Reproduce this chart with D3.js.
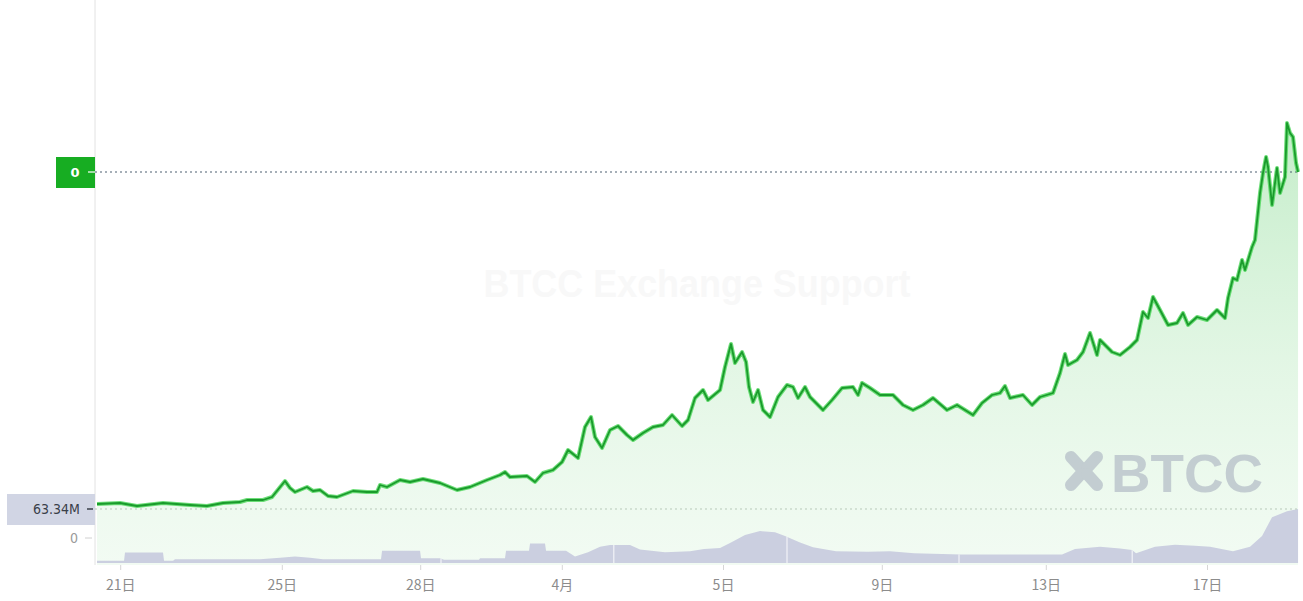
<!DOCTYPE html>
<html><head><meta charset="utf-8">
<script src="https://cdn.jsdelivr.net/npm/d3@7"></script>
<style>
html,body{margin:0;padding:0;background:#fff;}
svg{display:block;}
</style></head>
<body>
<svg id="chart" width="1303" height="601"></svg>
<script>
// ---------- DATA ----------
// time index (sessions) and price (arbitrary units)
const priceT = [0,2.88,5,8.25,11.63,13.75,15.75,17.88,18.75,20.75,21.88,23.5,24.13,24.75,26.25,27,27.88,28.88,30,32,33.75,35,35.38,36.25,37.88,39.13,40.75,42.88,45,46.63,48.75,50.38,51,51.63,53.75,54.75,55.75,57,58.13,58.88,60.13,61,61.75,62.25,63.13,64.13,65.13,66.25,67,68.25,69.5,70.75,71.88,73.13,73.88,74.75,75.75,76.38,77.88,78.5,79.25,79.75,80.63,81.13,81.5,82,82.63,83.25,84.13,85.13,86.25,87,87.63,88.5,89.13,90.75,91.88,93.13,94.5,95.13,95.63,96.63,97.88,99.5,100.75,102,103.25,104.5,106.25,107.5,109.5,110.63,111.88,112.88,113.5,114.13,115.75,116.88,117.88,119.5,120.38,121,121.38,122.5,123.25,124.13,125,125.38,126.88,127.88,129.13,130,130.75,131.38,132,132.88,133.88,135,135.75,136.38,137.5,138.75,140,141,141.38,142,142.5,143.13,143.5,144.38,144.75,145.38,145.75,146.13,146.38,146.88,147.5,147.88,148.5,148.75,149.13,149.5,149.88,150.13];
const priceV = [6.1,6.2,5.9,6.2,6.0,5.9,6.2,6.3,6.5,6.5,6.8,8.4,7.7,7.3,7.8,7.4,7.5,6.9,6.8,7.4,7.3,7.3,8.0,7.8,8.5,8.3,8.6,8.2,7.5,7.8,8.5,9.0,9.3,8.8,8.9,8.3,9.2,9.5,10.3,11.5,10.7,13.8,14.8,12.8,11.7,13.5,13.9,13.0,12.5,13.2,13.8,14.0,15.0,13.9,14.5,16.7,17.5,16.5,17.5,19.8,22.1,20.2,21.3,20.3,17.8,16.3,17.5,15.5,14.8,16.8,18.0,17.8,16.7,17.8,16.8,15.5,16.5,17.7,17.8,17.0,18.2,17.7,17.0,17.0,16.0,15.5,16.0,16.7,15.5,16.0,15.0,16.2,17.0,17.2,17.9,16.7,17.0,16.0,16.8,17.2,19.2,21.1,20.0,20.5,21.3,23.2,21.0,22.5,21.3,21.0,21.8,22.5,25.3,24.7,26.8,25.5,24.0,24.2,25.2,24.0,24.8,24.5,25.5,24.7,26.7,28.7,28.5,30.5,29.5,31.8,32.5,37.2,39.2,40.8,39.8,36.0,39.7,37.2,38.8,44.2,43.2,42.8,40.2,39.3];

// volume (millions)
const volT = [0,3.38,3.5,8.25,8.38,9.5,9.75,20.38,22.88,24.75,26.63,28.25,35.5,35.63,40.38,40.5,42.88,43.38,47.75,47.88,51,51.13,54,54.13,56,56.13,58.63,59.75,61.38,62.88,64.13,66.63,67.88,71,74.13,75.88,77.88,79.25,81,82.88,84.75,86,87.88,89.5,92.38,96.38,99.13,102.13,108,120.63,122.25,125.38,127.88,129.38,129.88,132.25,134.75,137.25,139.13,142,144.13,145.63,146.88,148.75,150.13];
const volV = [2.5,2.5,12.4,12.4,2.5,2.5,4.4,4.4,6.3,7.6,6.3,4.4,4.4,14.3,14.3,5.7,5.7,3.8,3.8,5.7,5.7,14.3,14.3,22.8,22.8,14.3,14.3,7.6,12.7,19.0,21.2,21.2,15.8,12.7,13.9,16.5,17.7,24.1,32.9,37.4,36.1,31.7,24.1,18.4,13.9,13.3,13.9,11.4,10.1,10.1,16.5,19.0,17.1,15.2,11.4,19.0,21.5,20.3,19.0,13.9,19.0,31.7,53.8,60.8,63.34];
const volGaps = [43.0,64.6,86.25,107.75,129.4];

const tickPos = [2.9,23.1,40.4,58.1,78.25,98.1,118.6,138.75];
const tickLabels = ["21日","25日","28日","4月","5日","9日","13日","17日"];

const lastPriceLabel = "0";
const volMaxLabel = "63.34M";
const volZeroLabel = "0";
const watermark = "BTCC Exchange Support";
const logoText = "BTCC";

// ---------- DRAW ----------
(function () {
const svg = d3.select("#chart");
const padL = 95, plotBottom = 565;

const x = d3.scaleLinear().domain([0, 150.25]).range([97, 1299]);
const y = d3.scaleLinear().domain([0, 56.5]).range([565, 0]);
const yv = d3.scaleLinear().domain([0, 63.34]).range([563, 509]);

const price = priceT.map((t, i) => ({t, v: priceV[i]}));
const vol = volT.map((t, i) => ({t, v: volV[i]}));

const defs = svg.append("defs");
const grad = defs.append("linearGradient").attr("id", "pfill")
  .attr("gradientUnits", "userSpaceOnUse").attr("x1", 0).attr("x2", 0)
  .attr("y1", y(45)).attr("y2", plotBottom);
grad.append("stop").attr("offset", 0).attr("stop-color", "#39c24a").attr("stop-opacity", 0.30);
grad.append("stop").attr("offset", 0.55).attr("stop-color", "#4cc85a").attr("stop-opacity", 0.16);
grad.append("stop").attr("offset", 1).attr("stop-color", "#6fd27a").attr("stop-opacity", 0.09);

const volArea = d3.area().x(d => x(d.t)).y0(yv(0)).y1(d => yv(d.v));
defs.append("clipPath").attr("id", "volclip").append("path").datum(vol).attr("d", volArea);

// watermark
svg.append("text").attr("x", 697).attr("y", 297)
  .attr("text-anchor", "middle")
  .attr("font-family", "Liberation Sans, Arial, sans-serif")
  .attr("font-size", 38).attr("font-weight", "bold")
  .attr("fill", "#f8f8f8")
  .attr("textLength", 427).attr("lengthAdjust", "spacingAndGlyphs")
  .text(watermark);

// price area
svg.append("path").datum(price)
  .attr("d", d3.area().x(d => x(d.t)).y0(plotBottom).y1(d => y(d.v)))
  .attr("fill", "url(#pfill)");

// volume area
svg.append("path").datum(vol).attr("d", volArea).attr("fill", "#cbcfe0");
svg.append("g").attr("clip-path", "url(#volclip)")
  .selectAll("line").data(volGaps).join("line")
  .attr("x1", d => x(d)).attr("x2", d => x(d))
  .attr("y1", 500).attr("y2", 564)
  .attr("stroke", "#ffffff").attr("stroke-opacity", 0.75).attr("stroke-width", 1.2);

// logo
const logo = svg.append("g").attr("opacity", 0.72);
const lc = "#b4bdc7";
[[1071,457,1081,468],[1097,457,1087,468],[1071,485,1081,474],[1097,485,1087,474]].forEach(s => {
  logo.append("line").attr("x1", s[0]).attr("y1", s[1]).attr("x2", s[2]).attr("y2", s[3])
    .attr("stroke", lc).attr("stroke-width", 12).attr("stroke-linecap", "round");
});
logo.append("text").attr("x", 1111).attr("y", 492)
  .attr("font-family", "Liberation Sans, Arial, sans-serif")
  .attr("font-size", 54).attr("font-weight", "bold")
  .attr("fill", lc).attr("textLength", 152).attr("lengthAdjust", "spacingAndGlyphs")
  .text(logoText);

// left axis line
svg.append("line").attr("x1", padL).attr("x2", padL).attr("y1", 0).attr("y2", plotBottom)
  .attr("stroke", "#e2e2e2").attr("stroke-width", 1);

// dotted lines
const lastV = priceV[priceV.length - 1];
svg.append("line").attr("x1", padL).attr("x2", 1299).attr("y1", y(lastV)).attr("y2", y(lastV))
  .attr("stroke", "#4d5e70").attr("stroke-width", 1).attr("stroke-dasharray", "2,3");
svg.append("line").attr("x1", padL).attr("x2", 1299).attr("y1", yv(63.34)).attr("y2", yv(63.34))
  .attr("stroke", "#b7c9b9").attr("stroke-width", 1).attr("stroke-dasharray", "2,3");

// price line with glow
const line = d3.line().x(d => x(d.t)).y(d => y(d.v)).curve(d3.curveLinear);
svg.append("path").datum(price).attr("d", line)
  .attr("fill", "none").attr("stroke", "#4ad657").attr("stroke-width", 4)
  .attr("stroke-linejoin", "round").attr("stroke-opacity", 0.8);
svg.append("path").datum(price).attr("d", line)
  .attr("fill", "none").attr("stroke", "#1a9b2c").attr("stroke-width", 1.8)
  .attr("stroke-linejoin", "round");

// last price label
const ly = y(lastV);
svg.append("rect").attr("x", 56).attr("y", ly - 15).attr("width", 39).attr("height", 31)
  .attr("fill", "#17ad22");
svg.append("line").attr("x1", 88).attr("x2", 95).attr("y1", ly).attr("y2", ly)
  .attr("stroke", "#ffffff").attr("stroke-width", 1.2);
svg.append("text").attr("x", 75).attr("y", ly + 5)
  .attr("text-anchor", "middle").attr("font-family", "DejaVu Sans, sans-serif")
  .attr("font-size", 13).attr("font-weight", "bold").attr("fill", "#ffffff")
  .text(lastPriceLabel);

// volume max label
const vy = yv(63.34);
svg.append("rect").attr("x", 7).attr("y", vy - 15).attr("width", 88).attr("height", 31)
  .attr("fill", "#d1d5e4");
svg.append("text").attr("x", 80).attr("y", vy + 5)
  .attr("text-anchor", "end").attr("font-family", "DejaVu Sans Condensed, DejaVu Sans, sans-serif")
  .attr("font-size", 14).attr("fill", "#3a3f4a")
  .text(volMaxLabel);
svg.append("line").attr("x1", 87).attr("x2", 93).attr("y1", vy).attr("y2", vy)
  .attr("stroke", "#3a3f4a").attr("stroke-width", 1.5);

// "0" label
svg.append("text").attr("x", 78).attr("y", 543)
  .attr("text-anchor", "end").attr("font-family", "DejaVu Sans Condensed, DejaVu Sans, sans-serif")
  .attr("font-size", 14).attr("fill", "#9a9a9a").text(volZeroLabel);
svg.append("line").attr("x1", 85).attr("x2", 92).attr("y1", 538).attr("y2", 538)
  .attr("stroke", "#d0d0d0").attr("stroke-width", 1);

// x axis
const xAxis = d3.axisBottom(x).tickValues(tickPos)
  .tickFormat((d, i) => tickLabels[i]).tickSize(5).tickPadding(10);
const gx = svg.append("g").attr("transform", `translate(0,${plotBottom})`).call(xAxis);
gx.select(".domain").remove();
gx.selectAll(".tick line").attr("stroke", "#d6d6d6");
gx.selectAll(".tick text").attr("fill", "#8c8c8c").attr("font-size", 14)
  .attr("font-family", "Noto Sans CJK SC, sans-serif");
})();
</script>
</body></html>
